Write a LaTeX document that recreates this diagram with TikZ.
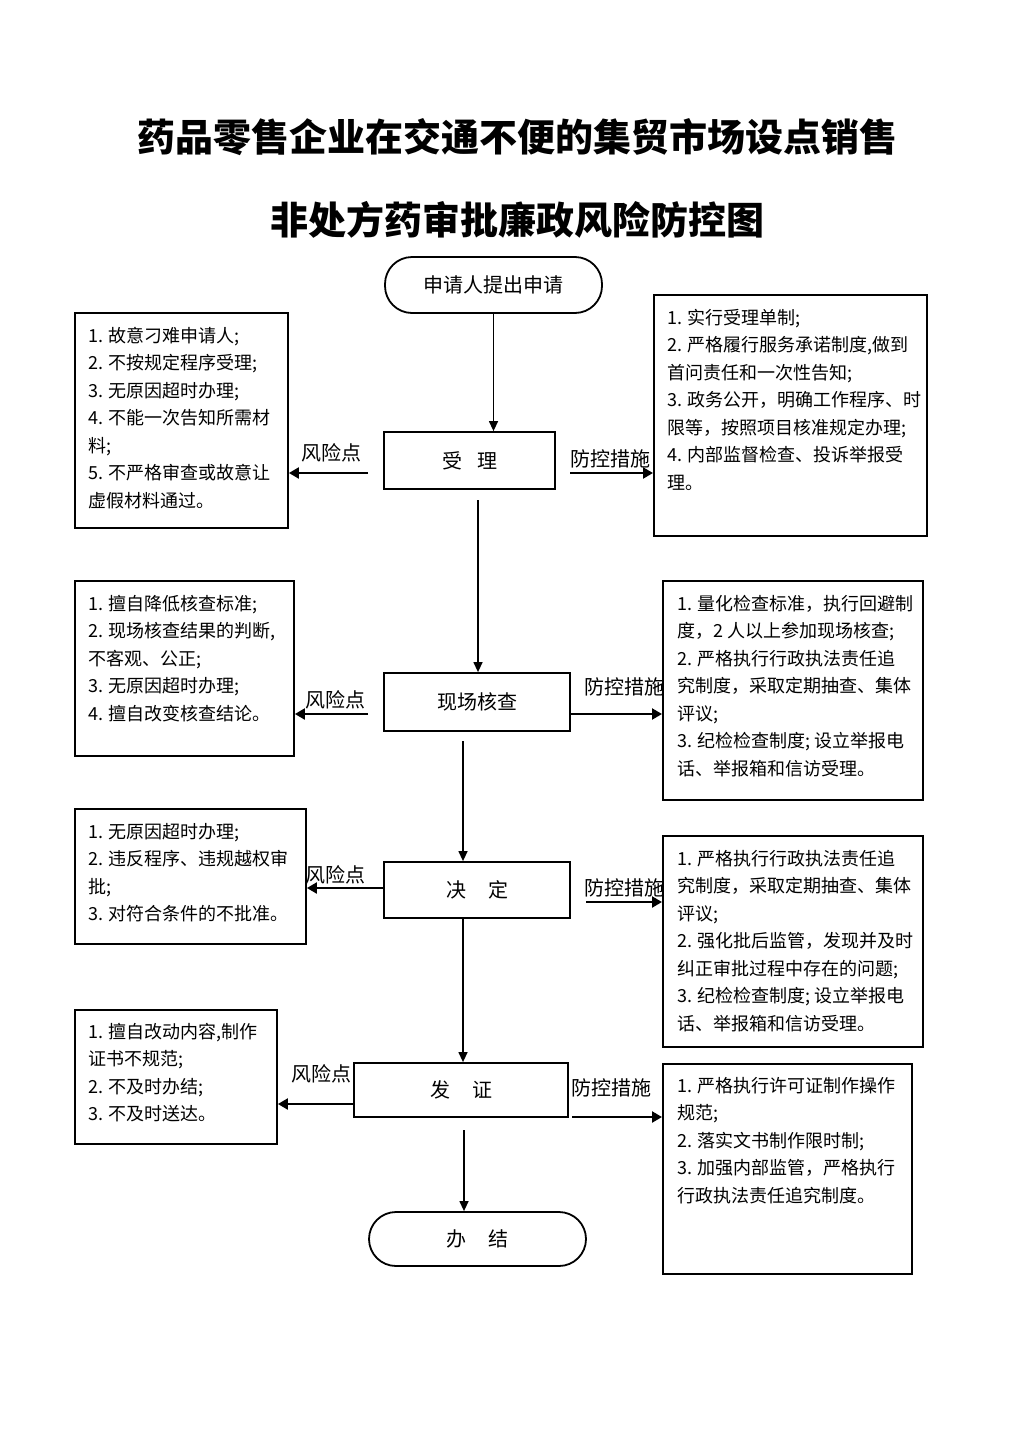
\documentclass[tikz,border=0pt]{standalone}
\usepackage{fontspec}
\setmainfont{Noto Sans CJK SC}
\usetikzlibrary{arrows.meta,calc}
\begin{document}
\begin{tikzpicture}[x=1pt,y=-1pt,
 proc/.style={draw,line width=1.8pt,inner sep=0pt,font=\fontsize{20pt}{24pt}\selectfont},
 term/.style={proc,rounded corners=27pt},
 sbox/.style={draw,line width=1.9pt,anchor=north west,inner sep=0pt},
 stext/.style={anchor=north west,align=left,inner sep=0pt,font=\fontsize{18pt}{27.5pt}\selectfont},
 lbl/.style={font=\fontsize{20pt}{24pt}\selectfont,inner sep=0pt},
 ttl/.style={font=\fontsize{38pt}{40pt}\selectfont\bfseries,inner sep=0pt},
 harr/.style={line width=2.2pt,-{Triangle[length=10pt,width=11pt]}},
 varr/.style={line width=1.3pt,-{Triangle[length=10pt,width=9pt]}},
]
\useasboundingbox (0,0) rectangle (1024,1448);
\fill[white] (0,0) rectangle (1024,1448);

% titles
\node[ttl] (t1) at (517,137) {药品零售企业在交通不便的集贸市场设点销售};
\node[ttl] (t2) at (517,220) {非处方药审批廉政风险防控图};

% main flow
\node[term,minimum width=217pt,minimum height=56pt] (st) at (493.5,285) {申请人提出申请};
\node[proc,minimum width=171pt,minimum height=57pt] (sl) at (469.5,460.5) {受\hspace{15pt}理};
\node[proc,minimum width=186pt,minimum height=58pt] (xc) at (477,702) {现场核查};
\node[proc,minimum width=186pt,minimum height=56pt] (jd) at (477,890) {决\hspace{22pt}定};
\node[proc,minimum width=214pt,minimum height=54pt] (fz) at (461,1090) {发\hspace{22pt}证};
\node[term,minimum width=217pt,minimum height=54pt] (bj) at (477.5,1239) {办\hspace{22pt}结};

% labels
\node[lbl] (r1l) at (331,453) {风险点};
\node[lbl] (p1l) at (610,459) {防控措施};
\node[lbl] (r2l) at (335,700) {风险点};
\node[lbl] (p2l) at (624,687) {防控措施};
\node[lbl] (r3l) at (335,875) {风险点};
\node[lbl] (p3l) at (624,888) {防控措施};
\node[lbl] (r4l) at (321,1074) {风险点};
\node[lbl] (p4l) at (611,1088) {防控措施};

% side boxes
\node[sbox,minimum width=213pt,minimum height=215pt] (L1) at (74,312) {};
\node[sbox,minimum width=273pt,minimum height=241pt] (R1) at (653,294) {};
\node[sbox,minimum width=219pt,minimum height=175pt] (L2) at (74,580) {};
\node[sbox,minimum width=260pt,minimum height=219pt] (R2) at (662,580) {};
\node[sbox,minimum width=231pt,minimum height=135pt] (L3) at (74,808) {};
\node[sbox,minimum width=260pt,minimum height=211pt] (R3) at (662,835) {};
\node[sbox,minimum width=202pt,minimum height=134pt] (L4) at (74,1009) {};
\node[sbox,minimum width=249pt,minimum height=210pt] (R4) at (662,1063) {};

% side texts
\node[stext] (L1t) at ($(L1.north west)+(14,15)$) {1. 故意刁难申请人;\\2. 不按规定程序受理;\\3. 无原因超时办理;\\4. 不能一次告知所需材\\料;\\5. 不严格审查或故意让\\虚假材料通过。};
\node[stext] (R1t) at ($(R1.north west)+(14,15)$) {1. 实行受理单制;\\2. 严格履行服务承诺制度,做到\\首问责任和一次性告知;\\3. 政务公开，明确工作程序、时\\限等，按照项目核准规定办理;\\4. 内部监督检查、投诉举报受\\理。};
\node[stext] (L2t) at ($(L2.north west)+(14,15)$) {1. 擅自降低核查标准;\\2. 现场核查结果的判断,\\不客观、公正;\\3. 无原因超时办理;\\4. 擅自改变核查结论。};
\node[stext] (R2t) at ($(R2.north west)+(15,15)$) {1. 量化检查标准，执行回避制\\度，2 人以上参加现场核查;\\2. 严格执行行政执法责任追\\究制度，采取定期抽查、集体\\评议;\\3. 纪检检查制度; 设立举报电\\话、举报箱和信访受理。};
\node[stext] (L3t) at ($(L3.north west)+(14,15)$) {1. 无原因超时办理;\\2. 违反程序、违规越权审\\批;\\3. 对符合条件的不批准。};
\node[stext] (R3t) at ($(R3.north west)+(15,15)$) {1. 严格执行行政执法责任追\\究制度，采取定期抽查、集体\\评议;\\2. 强化批后监管，发现并及时\\纠正审批过程中存在的问题;\\3. 纪检检查制度; 设立举报电\\话、举报箱和信访受理。};
\node[stext] (L4t) at ($(L4.north west)+(14,14)$) {1. 擅自改动内容,制作\\证书不规范;\\2. 不及时办结;\\3. 不及时送达。};
\node[stext] (R4t) at ($(R4.north west)+(15,14)$) {1. 严格执行许可证制作操作\\规范;\\2. 落实文书制作限时制;\\3. 加强内部监管，严格执行\\行政执法责任追究制度。};

% vertical connectors
\coordinate (a1) at (478,500);
\coordinate (a2) at (463,741);
\coordinate (a3) at (463,918);
\coordinate (a4) at (464,1130);
\draw[varr] (st.south) -- (st.south |- sl.north);
\draw[varr] (a1) -- (a1 |- xc.north);
\draw[varr] (a2) -- (a2 |- jd.north);
\draw[varr] (a3) -- (a3 |- fz.north);
\draw[varr] (a4) -- (a4 |- bj.north);

% horizontal connectors
\coordinate (b1) at (368,473);
\coordinate (c1) at (570,473);
\coordinate (b2) at (368,714);
\coordinate (c2) at (570,714);
\coordinate (b3) at (384,888);
\coordinate (c3) at (586,902);
\coordinate (b4) at (354,1104);
\coordinate (c4) at (572,1117);
\draw[harr] (b1) -- (b1 -| L1.east);
\draw[harr] (c1) -- (c1 -| R1.west);
\draw[harr] (b2) -- (b2 -| L2.east);
\draw[harr] (c2) -- (c2 -| R2.west);
\draw[harr] (b3) -- (b3 -| L3.east);
\draw[harr] (c3) -- (c3 -| R3.west);
\draw[harr] (b4) -- (b4 -| L4.east);
\draw[harr] (c4) -- (c4 -| R4.west);
\end{tikzpicture}
\end{document}
